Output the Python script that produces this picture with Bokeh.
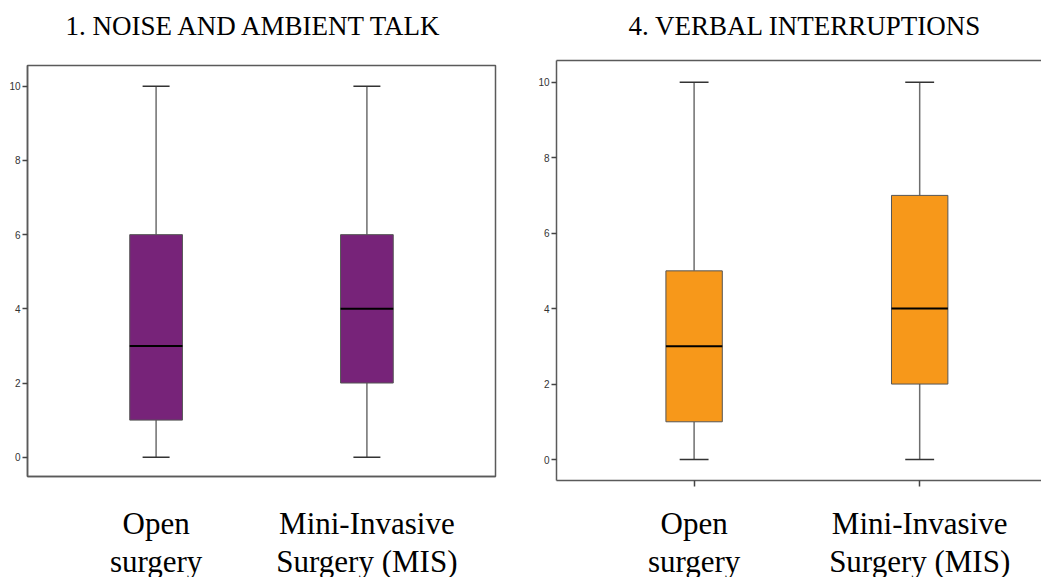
from bokeh.plotting import figure
from bokeh.layouts import row, column
from bokeh.models import FixedTicker, LinearAxis, ColumnDataSource, Title
from bokeh.embed import file_html
from bokeh.resources import INLINE

# ---- data ----
categories = ["Open\nsurgery", "Mini-Invasive\nSurgery (MIS)"]
positions = [1, 2]

noise_min = [0, 0]
noise_q1 = [1, 2]
noise_median = [3, 4]
noise_q3 = [6, 6]
noise_max = [10, 10]

verbal_min = [0, 0]
verbal_q1 = [1, 2]
verbal_median = [3, 4]
verbal_q3 = [5, 7]
verbal_max = [10, 10]

y_ticks = [0, 2, 4, 6, 8, 10]

FRAME_COLOR = "#5a5a5a"
SERIF = "Liberation Serif"
SANS = "Liberation Sans"


def make_panel(title, color, mins, q1, med, q3, maxs, frame_w, frame_h,
               b_left, b_right, b_top, b_bottom, x_end, y_range,
               title_offset, title_standoff, spacer_standoff, label_standoff,
               show_xticks, full_outline):
    p = figure(output_backend="svg", toolbar_location=None,
               frame_width=frame_w, frame_height=frame_h,
               min_border_left=b_left, min_border_right=b_right,
               min_border_top=b_top, min_border_bottom=b_bottom,
               x_range=(0.39, x_end), y_range=y_range,
               title=None)

    p.grid.visible = False
    p.background_fill_color = "white"
    p.border_fill_color = "white"

    bw = 0.25
    cw = 0.128
    src = ColumnDataSource(dict(
        x=positions, lo=mins, q1=q1, med=med, q3=q3, hi=maxs,
        bl=[x - bw / 2 for x in positions], br=[x + bw / 2 for x in positions],
        cl=[x - cw / 2 for x in positions], cr=[x + cw / 2 for x in positions],
    ))
    # whisker stems
    p.segment(x0="x", y0="q3", x1="x", y1="hi", source=src,
              line_color="#6e6e6e", line_width=1.5)
    p.segment(x0="x", y0="lo", x1="x", y1="q1", source=src,
              line_color="#6e6e6e", line_width=1.5)
    # caps
    p.segment(x0="cl", y0="hi", x1="cr", y1="hi", source=src,
              line_color="#333333", line_width=1.5)
    p.segment(x0="cl", y0="lo", x1="cr", y1="lo", source=src,
              line_color="#333333", line_width=1.5)
    # boxes
    p.vbar(x="x", width=bw, bottom="q1", top="q3", source=src,
           fill_color=color, line_color="#555555", line_width=1)
    # medians
    p.segment(x0="bl", y0="med", x1="br", y1="med", source=src,
              line_color="black", line_width=2)

    # y axis
    ya = p.yaxis[0]
    ya.ticker = FixedTicker(ticks=y_ticks)
    ya.minor_tick_line_color = None
    ya.major_tick_in = 0
    ya.major_tick_out = 5
    ya.major_tick_line_color = "#444444"
    ya.major_tick_line_width = 1.5
    ya.axis_line_color = FRAME_COLOR
    ya.axis_line_width = 1.5
    ya.major_label_text_font = SANS
    ya.major_label_text_font_size = "10px"
    ya.major_label_text_color = "#333333"
    ya.major_label_standoff = 2

    # x axis
    xa = p.xaxis[0]
    xa.ticker = FixedTicker(ticks=positions)
    xa.major_label_overrides = {pos: lab for pos, lab in zip(positions, categories)}
    xa.minor_tick_line_color = None
    xa.axis_line_color = FRAME_COLOR
    xa.axis_line_width = 1.5
    xa.major_label_text_font = SERIF
    xa.major_label_text_font_size = "31px"
    xa.major_label_text_color = "black"
    xa.major_label_text_line_height = 1.1
    xa.major_label_standoff = label_standoff
    if show_xticks:
        xa.major_tick_in = 0
        xa.major_tick_out = 6
        xa.major_tick_line_color = "#444444"
        xa.major_tick_line_width = 1.5
    else:
        xa.major_tick_line_color = None
        xa.major_tick_out = 0
        xa.major_tick_in = 0

    if full_outline:
        p.outline_line_color = FRAME_COLOR
        p.outline_line_width = 1.5
    else:
        p.outline_line_color = None
        top = LinearAxis(ticker=FixedTicker(ticks=[]))
        top.axis_line_color = FRAME_COLOR
        top.axis_line_width = 1.5
        top.major_tick_line_color = None
        top.minor_tick_line_color = None
        top.major_tick_out = 0
        top.major_tick_in = 0
        top.major_label_text_font_size = "0px"
        top.major_label_standoff = 0
        top.axis_label_standoff = 0
        p.add_layout(top, "above")

    # blank spacer title (nearest the frame), then the real title further out
    p.add_layout(Title(text=" ", text_font_size="10px",
                       standoff=spacer_standoff), "above")
    p.add_layout(Title(text=title, text_font=SERIF, text_font_size="27px",
                       text_font_style="normal", text_color="black",
                       align="left", offset=title_offset,
                       standoff=title_standoff), "above")
    return p


p1 = make_panel("1. NOISE AND AMBIENT TALK", "#772379",
                noise_min, noise_q1, noise_median, noise_q3, noise_max,
                frame_w=468, frame_h=411, b_left=27, b_right=35,
                b_top=65, b_bottom=97, x_end=2.61, y_range=(-0.52, 10.56),
                title_offset=38, title_standoff=12, spacer_standoff=6,
                label_standoff=29, show_xticks=False, full_outline=True)

p2 = make_panel("4. VERBAL INTERRUPTIONS", "#F7981A",
                verbal_min, verbal_q1, verbal_median, verbal_q3, verbal_max,
                frame_w=485, frame_h=420, b_left=26, b_right=0,
                b_top=60, b_bottom=93, x_end=2.54, y_range=(-0.556, 10.575),
                title_offset=72, title_standoff=12, spacer_standoff=1,
                label_standoff=19, show_xticks=True, full_outline=False)

layout = row(column(p1), column(p2))
open("out.html", "w").write(file_html(layout, INLINE))
